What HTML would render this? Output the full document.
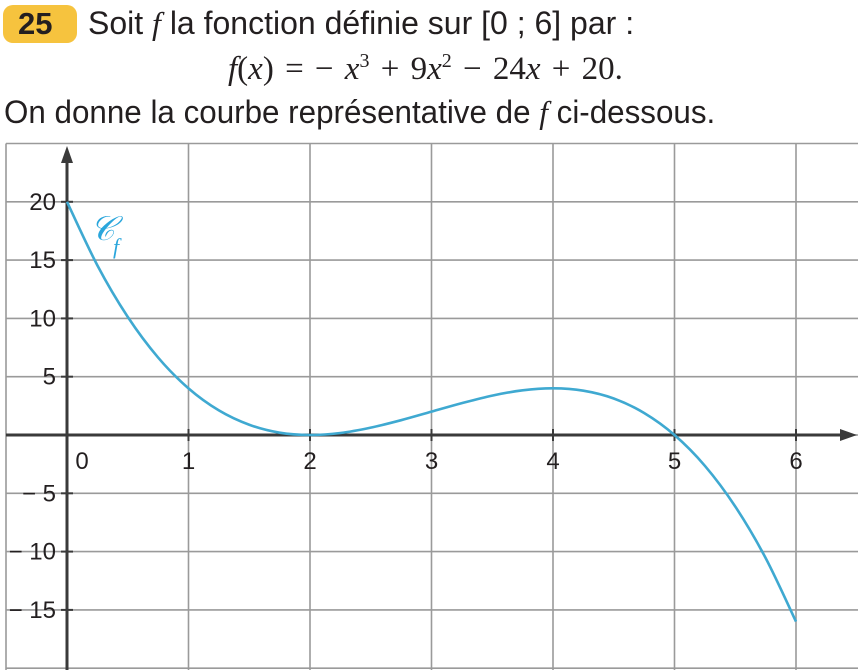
<!DOCTYPE html>
<html><head><meta charset="utf-8"><style>
body{margin:0;background:#fff;width:858px;height:670px;overflow:hidden;font-family:"Liberation Sans",sans-serif;color:#231f20}
.t{position:absolute;font-size:31px;white-space:nowrap;transform:scaleX(0.9);transform-origin:left}
</style></head><body>
<div style="position:absolute;left:3px;top:5px;width:74px;height:38px;background:#f6c33e;border-radius:10px"></div>
<div style="position:absolute;left:18px;top:6px;font-size:31px;font-weight:bold">25</div>
<div class="t" style="left:88px;top:5px;font-size:32px;transform:scaleX(1.0)">Soit <i style="font-family:'Liberation Serif',serif">f</i> la fonction définie sur [0 ; 6] par :</div>
<div class="t" style="left:228px;top:50px;font-family:'Liberation Serif',serif;transform:none;font-size:33px;word-spacing:3px"><i>f</i>(<i>x</i>) = − <i>x</i><sup style="font-size:20px">3</sup> + 9<i>x</i><sup style="font-size:20px">2</sup> − 24<i>x</i> + 20.</div>
<div class="t" style="left:4px;top:94px;font-size:32px;transform:scaleX(0.98)">On donne la courbe représentative de <i style="font-family:'Liberation Serif',serif">f</i> ci-dessous.</div>
<svg id="c" width="858" height="670" style="position:absolute;left:0;top:0"></svg>
<script>
const xValues=[0,0.25,0.5,0.75,1,1.25,1.5,1.75,2,2.25,2.5,2.75,3,3.25,3.5,3.75,4,4.25,4.5,4.75,5,5.25,5.5,5.75,6];
const yValues=[20,14.55,10.13,6.64,4,2.11,0.88,0.2,0,0.17,0.63,1.27,2,2.73,3.38,3.83,4,3.8,3.13,1.89,0,-2.64,-6.13,-10.55,-16];
const xTicks=[0,1,2,3,4,5,6];
const yTicks=[20,15,10,5,-5,-10,-15];
const yGrid=[25,20,15,10,5,0,-5,-10,-15,-20];
const X=v=>67+v*121.5, Y=v=>435-v*11.66;
const s=document.getElementById('c'),NS='http://www.w3.org/2000/svg';
function mk(t,a){const e=document.createElementNS(NS,t);for(const k in a)e.setAttribute(k,a[k]);s.appendChild(e);return e;}
for(const g of yGrid){const l=mk('line',{x1:6,x2:858,y1:Y(g),y2:Y(g),stroke:'#9a9a9a','stroke-width':1.6});

}
for(const g of [-0.5,...xTicks.slice(1)]){const l=mk('line',{x1:g<0?6:X(g),x2:g<0?6:X(g),y1:Y(25),y2:670,stroke:'#9a9a9a','stroke-width':1.6});

}
let a=mk('line',{x1:6,x2:845,y1:Y(0),y2:Y(0),stroke:'#3a3a3a','stroke-width':3});


a=mk('polygon',{points:`857,${Y(0)} 840,${Y(0)-6} 840,${Y(0)+6}`,fill:'#3a3a3a'});


a=mk('line',{x1:X(0),x2:X(0),y1:160,y2:670,stroke:'#3a3a3a','stroke-width':3});


a=mk('polygon',{points:`${X(0)},146 ${X(0)-6},163 ${X(0)+6},163`,fill:'#3a3a3a'});


xTicks.forEach(v=>{if(v>0){const k=mk('line',{x1:X(v),x2:X(v),y1:Y(0)-6,y2:Y(0)+6,stroke:'#3a3a3a','stroke-width':2});

}
const t=mk('text',{x:v===0?X(0)+15:X(v),y:Y(0)+34,'text-anchor':'middle','font-size':24,fill:'#231f20','font-family':'Liberation Sans, sans-serif'});
t.textContent=v;

});
yTicks.forEach(v=>{const k=mk('line',{x1:X(0)-6,x2:X(0)+6,y1:Y(v),y2:Y(v),stroke:'#3a3a3a','stroke-width':2});


const t=mk('text',{x:X(0)-11,y:Y(v)+8,'text-anchor':'end','font-size':24,fill:'#231f20','font-family':'Liberation Sans, sans-serif'});
t.textContent=v<0?'− '+(-v):v;

});
const P=xValues.map((x,i)=>[X(x),Y(yValues[i])]);
let d=`M${P[0][0]},${P[0][1]}`;
for(let i=0;i<P.length-1;i++){const p0=P[Math.max(0,i-1)],p1=P[i],p2=P[i+1],p3=P[Math.min(P.length-1,i+2)];
d+=` C${p1[0]+(p2[0]-p0[0])/6},${p1[1]+(p2[1]-p0[1])/6} ${p2[0]-(p3[0]-p1[0])/6},${p2[1]-(p3[1]-p1[1])/6} ${p2[0]},${p2[1]}`;}
const c=mk('path',{d:d,fill:'none',stroke:'#3fa9d1','stroke-width':2.6});


const lb=mk('text',{x:90,y:240,'font-size':34,fill:'#2aa6dc','font-family':'Liberation Serif, serif','font-style':'italic'});
lb.textContent='𝒞';


const sb=mk('text',{x:113,y:254,'font-size':22,fill:'#2aa6dc','font-family':'Liberation Serif, serif','font-style':'italic'});
sb.textContent='f';


</script>
</body></html>
